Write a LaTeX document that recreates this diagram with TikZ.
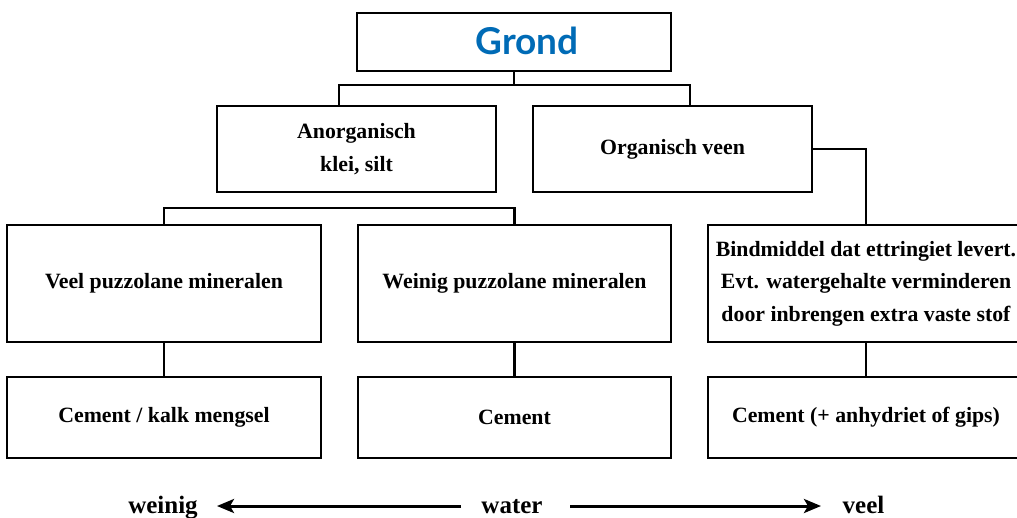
\documentclass[tikz,border=0pt]{standalone}
\usepackage{fontspec}
\setmainfont{Liberation Serif}
\newfontfamily\titlefont{Lato}
\usetikzlibrary{arrows.meta}
\definecolor{grondblue}{RGB}{0,107,182}
\tikzset{
  box/.style={draw=black, line width=2.8pt, rectangle, align=center, inner sep=0pt,
    font=\fontsize{21.8}{32.5}\selectfont\bfseries},
  link/.style={draw=black, line width=2.8pt},
  axislabel/.style={inner sep=0pt, anchor=base, font=\fontsize{25}{28}\selectfont\bfseries},
  axisarrow/.style={draw=black, line width=3pt, -{Stealth[length=17pt,width=14pt,inset=4pt]}}
}
\begin{document}
\begin{tikzpicture}[x=1pt,y=-1pt]
\useasboundingbox (0,0) rectangle (1017,517);
% boxes
\node[box, minimum width=314pt, minimum height=58pt] (grond) at (514,42) {};
\node[inner sep=0pt, font=\titlefont\fontsize{37}{40}\selectfont\bfseries, text=grondblue]
  (grondtxt) at (527,41) {Grond};
\node[box, minimum width=279pt, minimum height=86pt] (anorg) at (356.5,149)
  {Anorganisch\\klei, silt};
\node[box, minimum width=279pt, minimum height=86pt] (org) at (672.5,149)
  {Organisch veen};
\node[box, minimum width=314pt, minimum height=117pt] (veelp) at (164,283.5)
  {Veel puzzolane mineralen};
\node[box, minimum width=313pt, minimum height=117pt] (weinigp) at (514.5,283.5)
  {Weinig puzzolane mineralen};
\node[box, minimum width=316pt, minimum height=117pt] (bind) at (866,283.5)
  {Bindmiddel dat ettringiet levert.\\Evt. watergehalte verminderen\\door inbrengen extra vaste stof};
\node[box, minimum width=314pt, minimum height=81pt] (cemkalk) at (164,417.5)
  {Cement / kalk mengsel};
\node[box, minimum width=313pt, minimum height=81pt] (cement) at (514.5,417.5)
  {Cement};
\node[box, minimum width=316pt, minimum height=81pt] (cemanh) at (866,417.5)
  {Cement (+ anhydriet of gips)};
% connectors
\coordinate (j1) at (514,85);
\coordinate (a1) at (339,85);
\coordinate (o1) at (690,85);
\draw[link] (grond.south) -- (j1);
\draw[link] (anorg.north -| a1) -- (a1) -- (o1) -- (org.north -| o1);
\coordinate (b1) at (164,208);
\coordinate (b2) at (514.5,208);
\draw[link] (veelp.north) -- (b1) -- (b2) -- (weinigp.north);
\draw[link] (org.east) -| (bind.north);
\draw[link] (veelp.south) -- (cemkalk.north);
\draw[link] (weinigp.south) -- (cement.north);
\draw[link] (bind.south) -- (cemanh.north);
% water axis
\node[axislabel] (weinig) at (163,513) {weinig};
\node[axislabel] (water) at (512,513) {water};
\node[axislabel] (veel) at (863.5,513) {veel};
\coordinate (lstart) at (461,506);
\coordinate (lend) at (217,506);
\coordinate (rstart) at (570,506);
\coordinate (rend) at (821,506);
\draw[axisarrow] (lstart) -- (lend);
\draw[axisarrow] (rstart) -- (rend);
\end{tikzpicture}
\end{document}
